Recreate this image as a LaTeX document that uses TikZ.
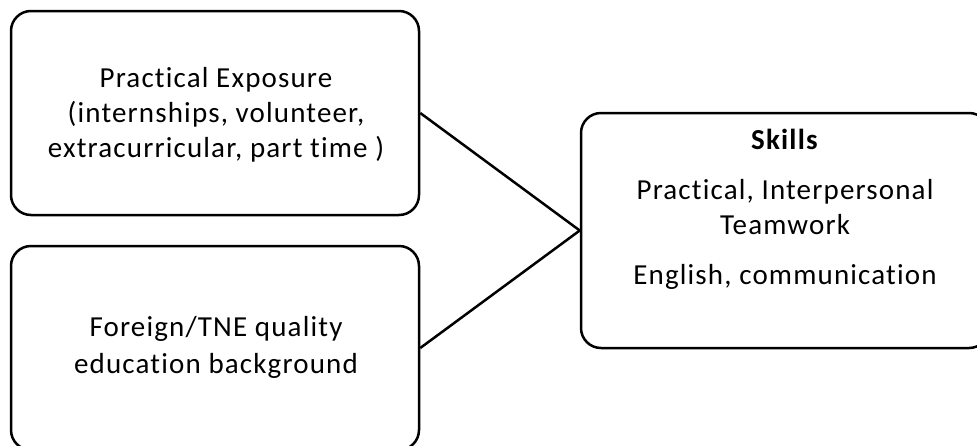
\documentclass[tikz,border=0pt]{standalone}
\usepackage{fontspec}
\setmainfont{Carlito}[LetterSpace=4, Ligatures=NoCommon]
\begin{document}
\begin{tikzpicture}[x=1pt,y=-1pt,
  box/.style={draw=black, line width=2.5pt, rounded corners=20pt,
    minimum width=408pt, inner sep=0pt},
  txt/.style={align=center, font=\fontsize{29}{35}\selectfont, inner sep=0pt},
  link/.style={draw=black, line width=2.5pt}]
\useasboundingbox (0,0) rectangle (977,445);
\clip (0,0) rectangle (977,445);

% boxes
\node[box, minimum height=204pt] (pe) at (215,113) {};
\node[box, minimum height=204pt] (fe) at (215,348) {};
\node[box, minimum height=235pt] (sk) at (785,230.5) {};

% box texts
\node[txt] (pet) at (216,115) {Practical Exposure\\(internships, volunteer,\\extracurricular, part time )};
\node[txt] (fet) at (216,347.5) {Foreign/TNE quality\\[2pt]education background};
\node[txt] (skt) at (785,209.5) {\textbf{Skills}\\[15pt]Practical, Interpersonal\\Teamwork\\[15pt]English, communication};

% connectors
\draw[link] (pe.east) -- (sk.west);
\draw[link] (fe.east) -- (sk.west);
\end{tikzpicture}
\end{document}
